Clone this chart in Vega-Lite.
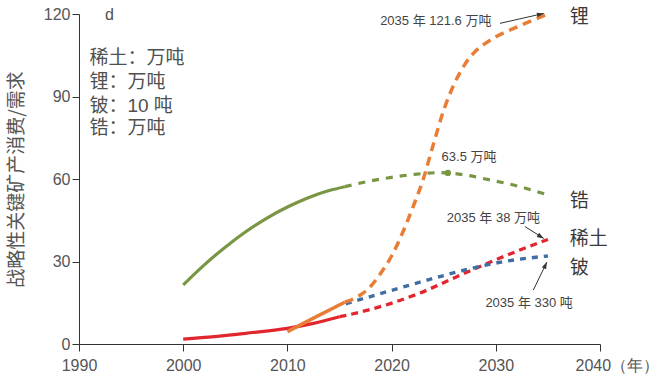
{
  "$schema": "https://vega.github.io/schema/vega-lite/v6.json",
  "width": 521,
  "height": 330,
  "autosize": {"type": "none"},
  "padding": {"left": 79, "top": 14, "right": 60, "bottom": 35},
  "background": "white",
  "config": {
    "view": {"stroke": null},
    "axis": {
      "labelFont": "Liberation Sans",
      "labelFontSize": 16,
      "labelColor": "#555555",
      "domainColor": "#333333",
      "tickColor": "#333333",
      "tickSize": 7,
      "grid": false,
      "titleFont": "Noto Sans CJK SC",
      "titleFontWeight": "normal",
      "titleColor": "#555555"
    }
  },
  "datasets": {
    "lines": [
      {"series": "锆", "seg": "solid", "year": 2000, "value": 21.5},
      {"series": "锆", "seg": "solid", "year": 2002, "value": 28.7},
      {"series": "锆", "seg": "solid", "year": 2004, "value": 35.1},
      {"series": "锆", "seg": "solid", "year": 2006, "value": 40.8},
      {"series": "锆", "seg": "solid", "year": 2008, "value": 45.7},
      {"series": "锆", "seg": "solid", "year": 2010, "value": 49.8},
      {"series": "锆", "seg": "solid", "year": 2012, "value": 53.2},
      {"series": "锆", "seg": "solid", "year": 2014, "value": 55.8},
      {"series": "锆", "seg": "solid", "year": 2015.5, "value": 57.2},
      {"series": "锆", "seg": "dash", "year": 2015.5, "value": 57.2},
      {"series": "锆", "seg": "dash", "year": 2018, "value": 59.3},
      {"series": "锆", "seg": "dash", "year": 2020, "value": 60.6},
      {"series": "锆", "seg": "dash", "year": 2022, "value": 61.6},
      {"series": "锆", "seg": "dash", "year": 2024.5, "value": 62.3},
      {"series": "锆", "seg": "dash", "year": 2027, "value": 61.5},
      {"series": "锆", "seg": "dash", "year": 2029, "value": 60},
      {"series": "锆", "seg": "dash", "year": 2031.7, "value": 57.8},
      {"series": "锆", "seg": "dash", "year": 2035, "value": 54.2},
      {"series": "稀土", "seg": "solid", "year": 2000, "value": 1.8},
      {"series": "稀土", "seg": "solid", "year": 2003, "value": 2.7},
      {"series": "稀土", "seg": "solid", "year": 2006, "value": 3.9},
      {"series": "稀土", "seg": "solid", "year": 2010, "value": 5.7},
      {"series": "稀土", "seg": "solid", "year": 2012.5, "value": 7.5},
      {"series": "稀土", "seg": "solid", "year": 2015, "value": 9.9},
      {"series": "稀土", "seg": "dash", "year": 2015, "value": 9.9},
      {"series": "稀土", "seg": "dash", "year": 2017, "value": 11.6},
      {"series": "稀土", "seg": "dash", "year": 2019.8, "value": 14.6},
      {"series": "稀土", "seg": "dash", "year": 2022.7, "value": 18.5},
      {"series": "稀土", "seg": "dash", "year": 2026.2, "value": 24.4},
      {"series": "稀土", "seg": "dash", "year": 2029.1, "value": 29.2},
      {"series": "稀土", "seg": "dash", "year": 2032, "value": 33.7},
      {"series": "稀土", "seg": "dash", "year": 2035, "value": 38},
      {"series": "铍", "seg": "dash", "year": 2015.6, "value": 14.6},
      {"series": "铍", "seg": "dash", "year": 2019, "value": 18.4},
      {"series": "铍", "seg": "dash", "year": 2022, "value": 21.7},
      {"series": "铍", "seg": "dash", "year": 2025, "value": 24.9},
      {"series": "铍", "seg": "dash", "year": 2028, "value": 27.8},
      {"series": "铍", "seg": "dash", "year": 2031, "value": 30.1},
      {"series": "铍", "seg": "dash", "year": 2035, "value": 32},
      {"series": "锂", "seg": "solid", "year": 2010, "value": 4.5},
      {"series": "锂", "seg": "solid", "year": 2012.5, "value": 9.4},
      {"series": "锂", "seg": "solid", "year": 2015.5, "value": 15.2},
      {"series": "锂", "seg": "dash", "year": 2015.5, "value": 15.2},
      {"series": "锂", "seg": "dash", "year": 2017, "value": 17.8},
      {"series": "锂", "seg": "dash", "year": 2018, "value": 21},
      {"series": "锂", "seg": "dash", "year": 2019, "value": 26},
      {"series": "锂", "seg": "dash", "year": 2020, "value": 32},
      {"series": "锂", "seg": "dash", "year": 2021, "value": 40},
      {"series": "锂", "seg": "dash", "year": 2022, "value": 49.3},
      {"series": "锂", "seg": "dash", "year": 2023, "value": 59.5},
      {"series": "锂", "seg": "dash", "year": 2024, "value": 72.5},
      {"series": "锂", "seg": "dash", "year": 2025, "value": 85},
      {"series": "锂", "seg": "dash", "year": 2026, "value": 94.5},
      {"series": "锂", "seg": "dash", "year": 2027, "value": 101.5},
      {"series": "锂", "seg": "dash", "year": 2028, "value": 106.3},
      {"series": "锂", "seg": "dash", "year": 2029, "value": 109.3},
      {"series": "锂", "seg": "dash", "year": 2030, "value": 111.7},
      {"series": "锂", "seg": "dash", "year": 2032, "value": 115.2},
      {"series": "锂", "seg": "dash", "year": 2035, "value": 120}
    ],
    "peak": [{"year": 2025.4, "value": 62.2}],
    "arrows": [
      {"id": "a1", "year": 2030.4, "value": 116.6, "year2": 2034.6, "value2": 120.2},
      {"id": "a2", "year": 2032.8, "value": 42.7, "year2": 2034.6, "value2": 38.4},
      {"id": "a3", "year": 2033.6, "value": 19.6, "year2": 2034.9, "value2": 29.8}
    ],
    "unitText": [
      {"label": "稀土：万吨", "year": 1991.0, "value": 103.9},
      {"label": "锂：万吨", "year": 1991.0, "value": 95.4},
      {"label": "铍：10 吨", "year": 1991.0, "value": 86.5},
      {"label": "锆：万吨", "year": 1991.0, "value": 78.4}
    ],
    "panelText": [{"label": "d", "year": 1992.5, "value": 119.6}],
    "seriesText": [
      {"label": "锂", "year": 2037.1, "value": 118.9},
      {"label": "锆", "year": 2037.1, "value": 52},
      {"label": "稀土", "year": 2037.1, "value": 38.2},
      {"label": "铍", "year": 2037.1, "value": 27.6}
    ],
    "noteText": [
      {"label": "2035 年 121.6 万吨", "year": 2018.9, "value": 117.5},
      {"label": "63.5 万吨", "year": 2024.8, "value": 68.1},
      {"label": "2035 年 38 万吨", "year": 2025.3, "value": 45.7},
      {"label": "2035 年 330 吨", "year": 2029.0, "value": 14.8}
    ]
  },
  "encoding": {
    "x": {
      "field": "year",
      "type": "quantitative",
      "scale": {"domain": [1990, 2040], "nice": false, "zero": false},
      "axis": {
        "values": [1990, 2000, 2010, 2020, 2030, 2040],
        "format": "d",
        "title": null,
        "labelPadding": 6,
        "labelExpr": "datum.value == 2040 ? '2040（年）' : datum.label",
        "labelAlign": {"condition": {"test": "datum.value == 2040", "value": "left"}, "value": "center"},
        "labelOffset": {"condition": {"test": "datum.value == 2040", "value": -25}, "value": 0},
        "labelOverlap": false
      }
    },
    "y": {
      "field": "value",
      "type": "quantitative",
      "scale": {"domain": [0, 120], "nice": false},
      "axis": {
        "values": [0, 30, 60, 90, 120],
        "title": "战略性关键矿产消费/需求",
        "titleFontSize": 19,
        "titlePadding": 17,
        "labelPadding": 2
      }
    }
  },
  "layer": [
    {
      "data": {"name": "lines"},
      "transform": [{"filter": "datum.seg == 'solid'"}],
      "mark": {"type": "line", "interpolate": "monotone", "strokeCap": "butt"},
      "encoding": {
        "color": {"field": "series", "type": "nominal", "legend": null,
          "scale": {"domain": ["锆", "稀土", "铍", "锂"], "range": ["#789643", "#e2262e", "#3f6ea3", "#ea7d36"]}},
        "strokeWidth": {"field": "series", "type": "nominal", "legend": null,
          "scale": {"domain": ["锆", "稀土", "铍", "锂"], "range": [3.2, 3.5, 2.2, 3.5]}},
        "detail": {"field": "series"}
      }
    },
    {
      "data": {"name": "lines"},
      "transform": [{"filter": "datum.seg == 'dash'"}],
      "mark": {"type": "line", "interpolate": "monotone", "strokeCap": "butt"},
      "encoding": {
        "color": {"field": "series", "type": "nominal", "legend": null,
          "scale": {"domain": ["锆", "稀土", "铍", "锂"], "range": ["#789643", "#e2262e", "#3f6ea3", "#ea7d36"]}},
        "strokeWidth": {"field": "series", "type": "nominal", "legend": null,
          "scale": {"domain": ["锆", "稀土", "铍", "锂"], "range": [3.2, 3.5, 2.2, 3.5]}},
        "strokeDash": {"field": "series", "type": "nominal", "legend": null,
          "scale": {"domain": ["锆", "稀土", "铍", "锂"], "range": [[7, 7], [7, 5], [6, 6], [9, 6]]}},
        "detail": {"field": "series"}
      }
    },
    {
      "data": {"name": "peak"},
      "mark": {"type": "point", "filled": true, "color": "#789643", "size": 40, "opacity": 1}
    },
    {
      "data": {"name": "arrows"},
      "mark": {"type": "rule", "color": "#333333", "strokeWidth": 1},
      "encoding": {
        "x2": {"field": "year2"},
        "y2": {"field": "value2"}
      }
    },
    {
      "data": {"name": "arrows"},
      "transform": [{"filter": "datum.id == 'a1'"}],
      "mark": {"type": "point", "filled": true, "color": "#333333", "opacity": 1, "size": 64, "shape": "M0,0L-0.6,1.7L0.6,1.7Z", "angle": 77},
      "encoding": {"x": {"field": "year2", "type": "quantitative"}, "y": {"field": "value2", "type": "quantitative"}}
    },
    {
      "data": {"name": "arrows"},
      "transform": [{"filter": "datum.id == 'a2'"}],
      "mark": {"type": "point", "filled": true, "color": "#333333", "opacity": 1, "size": 64, "shape": "M0,0L-0.6,1.7L0.6,1.7Z", "angle": 121},
      "encoding": {"x": {"field": "year2", "type": "quantitative"}, "y": {"field": "value2", "type": "quantitative"}}
    },
    {
      "data": {"name": "arrows"},
      "transform": [{"filter": "datum.id == 'a3'"}],
      "mark": {"type": "point", "filled": true, "color": "#333333", "opacity": 1, "size": 64, "shape": "M0,0L-0.6,1.7L0.6,1.7Z", "angle": 25},
      "encoding": {"x": {"field": "year2", "type": "quantitative"}, "y": {"field": "value2", "type": "quantitative"}}
    },
    {
      "data": {"name": "unitText"},
      "mark": {"type": "text", "align": "left", "baseline": "middle", "font": "Liberation Sans, Noto Sans CJK SC", "fontSize": 19, "color": "#505050"},
      "encoding": {"text": {"field": "label"}}
    },
    {
      "data": {"name": "panelText"},
      "mark": {"type": "text", "align": "left", "baseline": "middle", "font": "Liberation Sans", "fontSize": 16, "color": "#505050"},
      "encoding": {"text": {"field": "label"}}
    },
    {
      "data": {"name": "seriesText"},
      "mark": {"type": "text", "align": "left", "baseline": "middle", "font": "Noto Sans CJK SC", "fontSize": 19, "color": "#3a3a3a"},
      "encoding": {"text": {"field": "label"}}
    },
    {
      "data": {"name": "noteText"},
      "mark": {"type": "text", "align": "left", "baseline": "middle", "font": "Liberation Sans, Noto Sans CJK SC", "fontSize": 13, "color": "#444444"},
      "encoding": {"text": {"field": "label"}}
    }
  ]
}
